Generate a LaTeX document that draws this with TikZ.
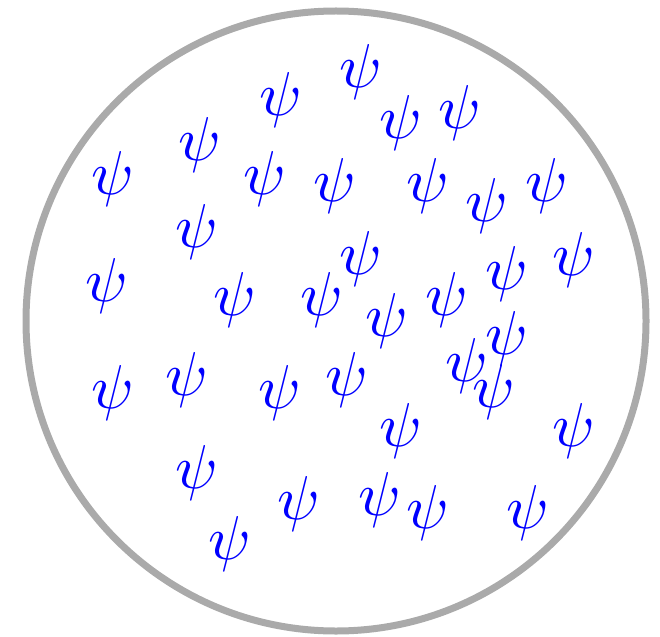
\documentclass[tikz,border=0pt]{standalone}
\usepackage{tikz}
\definecolor{rimgrey}{HTML}{AAAAAA}
\definecolor{psiblue}{HTML}{0000FF}
\tikzset{rim/.style={draw=rimgrey,line width=7pt},
  psi/.style={text=psiblue,inner sep=0pt,scale=6.2,
    font=\fontsize{10}{12}\selectfont}}

\begin{document}
\begin{tikzpicture}[x=1pt,y=-1pt]
  \path[use as bounding box] (0,0) rectangle (660,636);
  \draw[rim] (336,321) circle[radius=310pt];
  % particles
  \foreach \px/\py [count=\i] in {113/179,200/145,281/100,361/72,265/179,
      335/186,197/232,401/123,460/113,428/186,487/206,547/186,107/286,
      235/300,322/300,361/259,113/393,187/380,280/393,347/380,387/321,
      447/300,507/274,574/260,507/339,467/366,494/392,401/431,574/431,
      197/473,230/544,299/504,380/500,428/513,528/513}
    \node[psi] (psi\i) at (\px,\py) {$\psi$};
\end{tikzpicture}
\end{document}
